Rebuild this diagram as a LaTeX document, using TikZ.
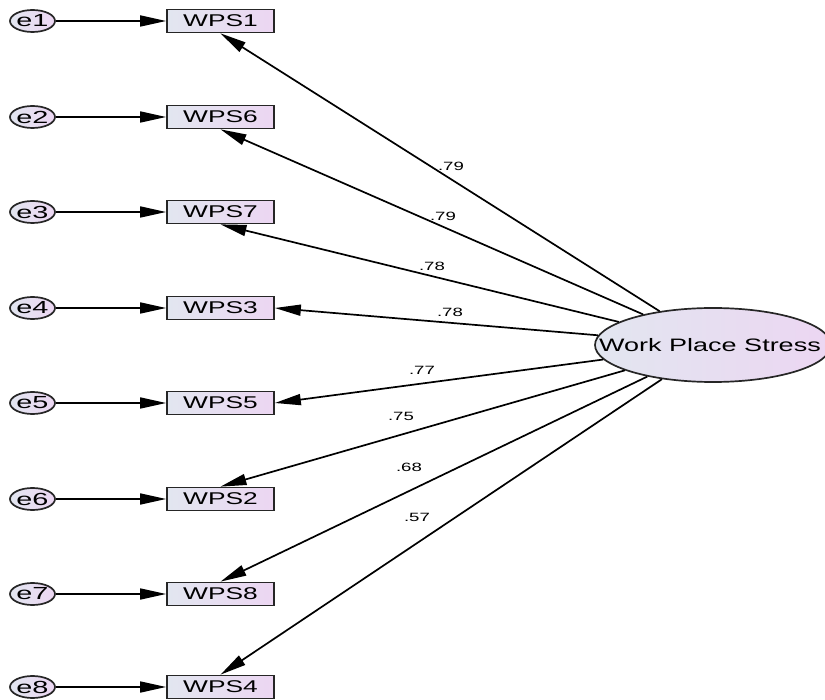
\documentclass[tikz,border=0pt]{standalone}
\usepackage{fontspec}
\setmainfont{Liberation Sans}
\usepackage{graphicx}
\usetikzlibrary{shapes.geometric,arrows.meta}
\newcommand\sx[1]{\scalebox{1.55}[1]{#1}}
\definecolor{gl}{RGB}{226,230,240}
\definecolor{gr}{RGB}{236,214,242}
\tikzset{
  obs/.style={draw=black!85, line width=1.7pt, rectangle, minimum width=107pt, minimum height=23pt, inner sep=0pt,
    left color=gl, right color=gr, font=\fontsize{17}{18}\selectfont},
  err/.style={draw=black!85, line width=1.7pt, ellipse, minimum width=45pt, minimum height=22pt, inner sep=0pt,
    left color=gl, right color=gr, font=\fontsize{17.5}{18}\selectfont},
  lat/.style={draw=black!85, line width=1.7pt, ellipse, minimum width=236pt, minimum height=74pt, inner sep=0pt,
    left color=gl, right color=gr, font=\fontsize{18}{20}\selectfont},
  conn/.style={line width=1.7pt, -{Triangle[length=26pt,width=11pt]}},
  lbl/.style={font=\fontsize{12}{13}\selectfont, inner sep=0pt}
}
\begin{document}
\begin{tikzpicture}[x=1pt,y=-1pt]
\useasboundingbox (0,0) rectangle (825,700);
\clip (0,0) rectangle (825,700);
% latent
\node[lat] (ws) at (713,345) {\makebox[0pt]{\hspace*{-6pt}\scalebox{1.5}[1]{Work Place Stress}}};
% observed and errors
\foreach \n/\e/\y in {1/1/21, 6/2/117, 7/3/212, 3/4/308, 5/5/403, 2/6/499, 8/7/594, 4/8/687}{
  \node[obs] (w\n) at (220.5,\y) {\sx{WPS\n}};
  \node[err] (e\e) at (32.5,\y) {\makebox[0pt]{\scalebox{1.65}[1]{e\e}}};
  \draw[conn] (e\e) -- (w\n);
}
% loadings
\draw[conn] (ws) -- (w1.south);
\draw[conn] (ws) -- (w6.south);
\draw[conn] (ws) -- (w7.south);
\draw[conn] (ws) -- (w3.east);
\draw[conn] (ws) -- (w5.east);
\draw[conn] (ws) -- (w2.north);
\draw[conn] (ws) -- (w8.north);
\draw[conn] (ws) -- (w4.north);
% labels
\node[lbl] (l1) at (451,166) {\sx{.79}};
\node[lbl] (l2) at (443,216) {\sx{.79}};
\node[lbl] (l3) at (432,266) {\sx{.78}};
\node[lbl] (l4) at (450,312) {\sx{.78}};
\node[lbl] (l5) at (422,370) {\sx{.77}};
\node[lbl] (l6) at (401,416) {\sx{.75}};
\node[lbl] (l7) at (409,467) {\sx{.68}};
\node[lbl] (l8) at (417,517) {\sx{.57}};
\end{tikzpicture}
\end{document}
